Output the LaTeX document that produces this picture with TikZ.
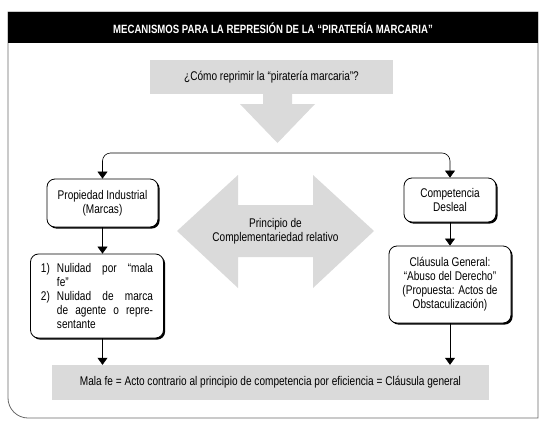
\documentclass[tikz,border=0pt]{standalone}
\usepackage{fontspec}
\setmainfont{Liberation Sans}[FakeStretch=0.8]
\usepackage{tikz}
\usetikzlibrary{arrows.meta,shadows}

\definecolor{boxgray}{RGB}{218,218,218}
\definecolor{framegray}{RGB}{105,105,105}

\tikzset{
  >={Triangle[width=10pt,length=7pt]},
  rbox/.style={draw, fill=white, line width=0.8pt, rounded corners=8pt, align=center, inner sep=2pt,
    drop shadow={shadow xshift=1.6pt, shadow yshift=-1.6pt, opacity=1, fill=black}},
  gbox/.style={fill=boxgray, align=center},
  conn/.style={line width=0.6pt, ->}
}

\begin{document}
\begin{tikzpicture}[x=1pt,y=-1pt, every node/.style={font=\fontsize{12.6}{14}\selectfont}]
    \useasboundingbox (0,0) rectangle (547,426);

    %Shape: Frame
    \draw [framegray, line width=0.8pt] (8,12) -- (538,12) -- (538,418) -- (28,418) .. controls (17,418) and (8,409) .. (8,398) -- cycle ;

    %Shape: Header
    \fill (8,12) rectangle (538,43) ;
    % Text Node
    \draw (273,28) node (title) [text=white, font=\bfseries\fontsize{12}{13}\selectfont] {MECANISMOS PARA LA REPRESIÓN DE LA “PIRATERÍA MARCARIA”};

    %Shape: Question box
    \draw (271.5,77) node (q) [gbox, minimum width=243pt, minimum height=34pt] {¿Cómo reprimir la “piratería marcaria”?};

    %Shape: Down arrow
    \fill [boxgray] (263,94) -- (292,94) -- (292,104) -- (315,104) -- (277.5,143) -- (240,104) -- (263,104) -- cycle ;

    %Shape: Double arrow
    \fill [boxgray] (177,231) -- (238,175) -- (238,205) -- (313,205) -- (313,175) -- (374,231) -- (313,288) -- (313,257) -- (238,257) -- (238,288) -- cycle ;
    % Text Node
    \draw (275.5,231) node (pc) [align=center] {Principio de\\Complementariedad relativo};

    %Shape: Rounded boxes
    \draw (102.5,203) node (pi) [rbox, minimum width=111pt, minimum height=48pt] {Propiedad Industrial\\(Marcas)};
    \draw (450,200) node (cd) [rbox, minimum width=92pt, minimum height=44pt] {Competencia\\Desleal};
    \draw (97,296) node (nul) [rbox, minimum width=133pt, minimum height=84pt, text width=112pt, align=justify]
      {\noindent\hangindent=16pt\hangafter=1\makebox[16pt][l]{1)}Nulidad por “mala\linebreak fe”\par
       \noindent\hangindent=16pt\hangafter=1\makebox[16pt][l]{2)}Nulidad de marca\linebreak de agente o repre-\linebreak sentante\par};
    \draw (450,284.5) node (cg) [rbox, minimum width=122pt, minimum height=77pt] {Cláusula General:\\“Abuso del Derecho”\\(Propuesta: Actos de\\Obstaculización)};

    %Shape: Bottom box
    \draw (270.5,382.5) node (mf) [gbox, minimum width=437pt, minimum height=35pt] {Mala fe = Acto contrario al principio de competencia por eficiencia = Cláusula general};

    %Straight Lines
    \coordinate (br) at (275,153);
    \draw [conn, <->, rounded corners=8pt] (pi.north) |- (br) -| (cd.north) ;
    \draw [conn] (pi.south) -- (pi.south |- nul.north) ;
    \draw [conn] (cd.south) -- (cg.north) ;
    \draw [conn] (pi.south |- nul.south) -- (pi.south |- mf.north) ;
    \draw [conn] (cg.south) -- (cg.south |- mf.north) ;

\end{tikzpicture}
\end{document}
